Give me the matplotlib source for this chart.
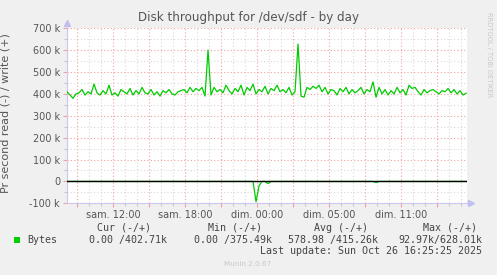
import numpy as np
import matplotlib
matplotlib.use("Agg")
import matplotlib.pyplot as plt
from matplotlib.ticker import FuncFormatter, MultipleLocator

# ---- data (bytes per second, in thousands) sampled every 15 min (3 px) ----
write_k = [410, 395, 380, 400, 405, 420, 395, 410, 400, 445, 405, 395, 415, 400, 440, 395, 405, 390,
           420, 410, 400, 425, 395, 415, 400, 430, 405,
           400, 420, 395, 410, 390, 415, 405, 420, 400, 395, 410, 415, 420, 405, 430, 410, 425, 415,
           430, 390, 600, 395, 430, 410, 420, 405, 440,
           415, 400, 425, 410, 440, 395, 430, 415, 445, 400, 420, 410, 435, 400, 425, 415, 440, 410,
           420, 405, 430, 395, 410, 628, 390, 385, 430,
           420, 435, 425, 440, 410, 430, 400, 420, 415, 395, 425, 410, 430, 400, 420, 405, 415, 430,
           400, 420, 410, 455, 385, 430, 400, 420, 395,
           415, 400, 430, 405, 420, 395, 440, 425, 430, 410, 395, 420, 405, 415, 420, 410, 400, 415,
           410, 425, 405, 420, 400, 415, 395, 403]
read_k = [0] * 134
read_k[63] = 93
read_k[64] = 20
read_k[67] = 10
read_k[103] = 5

tick_hours = [0.83, 3.83, 6.83, 9.83, 12.83, 15.83, 18.83, 21.83, 24.83, 27.83, 30.83]
tick_labels = ["", "sam. 12:00", "", "sam. 18:00", "", "dim. 00:00", "", "dim. 05:00", "", "dim. 11:00", ""]

legend_headers = ["Cur (-/+)", "Min (-/+)", "Avg (-/+)", "Max (-/+)"]
legend_values = ["0.00 /402.71k", "0.00 /375.49k", "578.98 /415.26k", "92.97k/628.01k"]
series_name = "Bytes"

W, H = 497, 275
fig = plt.figure(figsize=(W / 100, H / 100), dpi=100, facecolor="#F0F0F0")

def fx(x):
    return x / W

def fy(y):
    return 1 - y / H

L, R, T, B = 67, 467, 28.3, 203.3
ax = fig.add_axes([fx(L), fy(B), (R - L) / W, (B - T) / H])
ax.set_facecolor("white")

t = np.arange(len(write_k)) * 0.25
w = np.array(write_k) * 1000.0
r = -np.array(read_k) * 1000.0

ax.set_xlim(0, 33.33)
ax.set_ylim(-100000, 700000)

major_col = "#F2A0A0"
minor_col = "#D8D8D8"
ax.set_xticks(tick_hours)
ax.set_xticklabels(tick_labels)
ax.xaxis.set_minor_locator(matplotlib.ticker.FixedLocator(np.arange(-0.17, 33.4, 1.0)))
ax.yaxis.set_major_locator(MultipleLocator(100000))
ax.yaxis.set_minor_locator(MultipleLocator(50000))
ax.yaxis.set_major_formatter(FuncFormatter(lambda v, p: "0" if abs(v) < 1 else f"{int(round(v / 1000))} k"))

ax.grid(which="major", color=major_col, linestyle=(0, (1, 2)), linewidth=0.8)
ax.grid(which="minor", color=minor_col, linestyle=(0, (1, 2)), linewidth=0.8)
ax.set_axisbelow(True)

ax.tick_params(axis="both", which="major", labelsize=7, labelcolor="#555555", length=3, width=0.8, color=major_col, pad=2)
ax.tick_params(axis="both", which="minor", length=2, width=0.6, color="#BBBBBB")
ax.tick_params(axis="x", which="major", pad=1.5)

for s in ["top", "right"]:
    ax.spines[s].set_visible(False)
for s in ["left", "bottom"]:
    ax.spines[s].set_color("#C8C8F0")
    ax.spines[s].set_linewidth(0.8)

ax.plot(t, w, color="#00CC00", linewidth=0.9, zorder=4)
ax.plot(t, r, color="#00CC00", linewidth=0.9, zorder=4)
ax.axhline(0, color="black", linewidth=1.0, zorder=5)

# axis arrows
ax.plot([0], [1.03], marker="^", color="#C0C0F0", markersize=4, transform=ax.transAxes, clip_on=False)
ax.plot([1.01], [0], marker=">", color="#C0C0F0", markersize=4, transform=ax.transAxes, clip_on=False)

ax.set_ylabel("Pr second read (-) / write (+)", fontsize=8, color="#555555")
ax.yaxis.set_label_coords((10 - L) / (R - L), 0.513)

fig.text(fx(248), fy(18), "Disk throughput for /dev/sdf - by day", ha="center", va="center",
         fontsize=8.6, color="#555555")
fig.text(fx(489), fy(55), "RRDTOOL / TOBI OETIKER", rotation=-90, ha="center", va="center",
         fontsize=4.8, color="#C8C8C8")

mono = "DejaVu Sans Mono"
hdr_right = [151, 262, 368, 477]
for hx, h in zip(hdr_right, legend_headers):
    fig.text(fx(hx), fy(228), h, ha="right", va="center", fontsize=7.2, family=mono, color="#444444")
val_right = [167, 272, 378, 482]
for vx, v in zip(val_right, legend_values):
    fig.text(fx(vx), fy(240), v, ha="right", va="center", fontsize=7.2, family=mono, color="#444444")
fig.patches.append(matplotlib.patches.Rectangle((fx(14), fy(243)), 6 / W, 6 / H, transform=fig.transFigure,
                                                 facecolor="#00CC00", edgecolor="none"))
fig.text(fx(27), fy(240), series_name, ha="left", va="center", fontsize=7.2, family=mono, color="#444444")
fig.text(fx(482), fy(251.5), "Last update: Sun Oct 26 16:25:25 2025", ha="right", va="center",
         fontsize=7.2, family=mono, color="#444444")
fig.text(fx(248), fy(264), "Munin 2.0.67", ha="center", va="center", fontsize=5.2, color="#C8C8C8")

fig.savefig("out.png", dpi=100, facecolor=fig.get_facecolor())
